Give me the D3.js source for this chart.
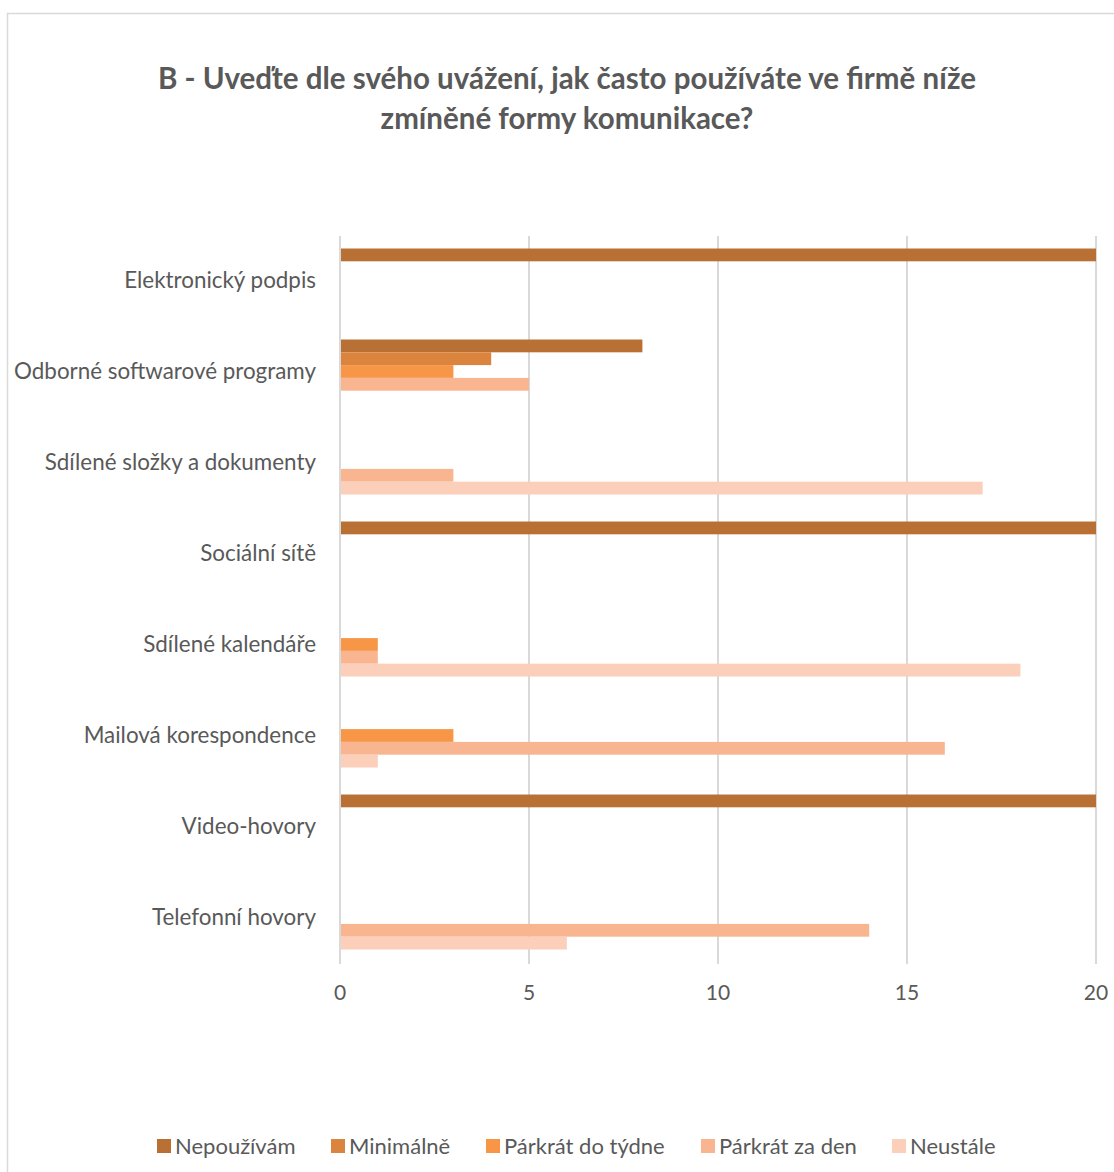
<!doctype html>
<html lang="cs">
<head>
    <meta charset="utf-8">
    <title>Formy komunikace</title>
    <script src="https://cdnjs.cloudflare.com/ajax/libs/d3/7.8.5/d3.min.js"></script>
    <style>
        body { margin: 0; background: #fff; }
        svg text { font-family: Lato, "Open Sans", sans-serif; fill: #595959; }
    </style>
</head>
<body>
    <div id="chart"></div>
    <script>
        // categories from top to bottom as drawn
        var categories = ['Elektronický podpis', 'Odborné softwarové programy', 'Sdílené složky a dokumenty',
            'Sociální sítě', 'Sdílené kalendáře', 'Mailová korespondence', 'Video-hovory', 'Telefonní hovory'];
        var seriesNames = ['Nepoužívám', 'Minimálně', 'Párkrát do týdne', 'Párkrát za den', 'Neustále'];
        var colors = ['#b87034', '#db843d', '#f79646', '#f9b590', '#fbcfb9'];

        var nepouzivam     = [20, 8, 0, 20, 0, 0, 20, 0];
        var minimalne      = [0, 4, 0, 0, 0, 0, 0, 0];
        var parkratTyden   = [0, 3, 0, 0, 1, 3, 0, 0];
        var parkratDen     = [0, 5, 3, 0, 1, 16, 0, 14];
        var neustale       = [0, 0, 17, 0, 18, 1, 0, 6];
        var xTicks = [0, 5, 10, 15, 20];

        var seriesValues = [nepouzivam, minimalne, parkratTyden, parkratDen, neustale];

        var W = 1114, H = 1172;
        var svg = d3.select('#chart').append('svg')
            .attr('width', W)
            .attr('height', H);

        // chart frame
        svg.append('rect')
            .attr('x', 7.5).attr('y', 13.5)
            .attr('width', W + 20).attr('height', H + 20)
            .attr('fill', '#fff')
            .attr('stroke', '#d9d9d9')
            .attr('stroke-width', 1.5);

        svg.append('text')
            .attr('x', 567).attr('y', 89)
            .attr('text-anchor', 'middle')
            .style('font-size', '29.5px').style('font-weight', 'bold')
            .text('B - Uveďte dle svého uvážení, jak často používáte ve firmě níže');
        svg.append('text')
            .attr('x', 567).attr('y', 129)
            .attr('text-anchor', 'middle')
            .style('font-size', '29.5px').style('font-weight', 'bold')
            .text('zmíněné formy komunikace?');

        var x = d3.scaleLinear().domain([0, 20]).range([340, 1096]);
        var y = d3.scaleBand().domain(categories).range([236, 964])
            .paddingInner(0.297).paddingOuter(0.1485);
        var ySub = d3.scaleBand().domain(seriesNames).range([0, y.bandwidth()]);

        // gridlines
        svg.append('g').selectAll('line')
            .data(xTicks)
            .join('line')
            .attr('x1', function(d) { return x(d); })
            .attr('x2', function(d) { return x(d); })
            .attr('y1', 236).attr('y2', 964)
            .attr('stroke', '#d9d9d9')
            .attr('stroke-width', 2);

        // bars
        var groups = svg.append('g').selectAll('g')
            .data(categories)
            .join('g')
            .attr('transform', function(d) { return 'translate(0,' + (y(d) - 1) + ')'; });

        groups.selectAll('rect')
            .data(function(c, ci) {
                return seriesNames.map(function(s, si) {
                    return { series: s, idx: si, value: seriesValues[si][ci] };
                }).filter(function(d) { return d.value > 0; });
            })
            .join('rect')
            .attr('x', x(0) + 1)
            .attr('y', function(d) { return ySub(d.series); })
            .attr('height', ySub.bandwidth())
            .attr('width', function(d) { return x(d.value) - x(0) - 1; })
            .attr('fill', function(d) { return colors[d.idx]; });

        // category labels
        svg.append('g').selectAll('text')
            .data(categories)
            .join('text')
            .attr('x', 316)
            .attr('y', function(d) { return y(d) + y.bandwidth() / 2 - 1; })
            .attr('dy', '0.35em')
            .attr('text-anchor', 'end')
            .style('font-size', '22.4px')
            .text(function(d) { return d; });

        // x axis tick labels
        svg.append('g').selectAll('text')
            .data(xTicks)
            .join('text')
            .attr('x', function(d) { return x(d); })
            .attr('y', 1000)
            .attr('text-anchor', 'middle')
            .style('font-size', '21px')
            .text(function(d) { return d; });

        // legend
        var legendX = [157, 331, 486, 701, 892];
        var legend = svg.append('g').selectAll('g')
            .data(seriesNames)
            .join('g')
            .attr('transform', function(d, i) { return 'translate(' + legendX[i] + ',1146)'; });
        legend.append('rect')
            .attr('x', 0).attr('y', -7)
            .attr('width', 14).attr('height', 14)
            .attr('fill', function(d, i) { return colors[i]; });
        legend.append('text')
            .attr('x', 18).attr('y', 0)
            .attr('dy', '0.35em')
            .style('font-size', '22px')
            .text(function(d) { return d; });
    </script>
</body>
</html>
